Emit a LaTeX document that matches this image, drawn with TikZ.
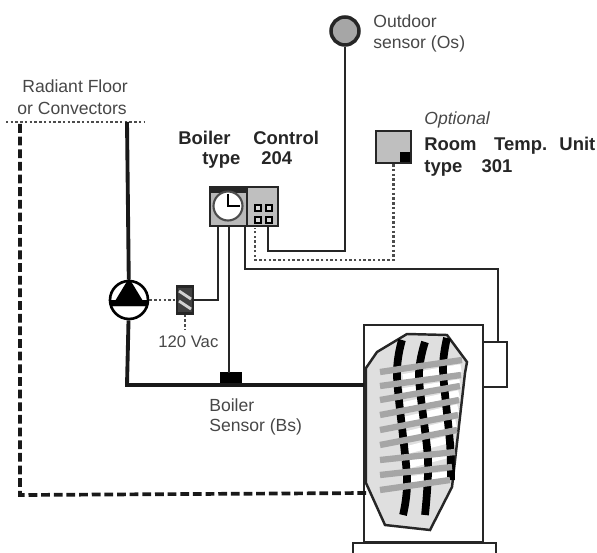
\documentclass[tikz,border=0pt]{standalone}
\usepackage{fontspec}
\setmainfont{Liberation Sans}
\tikzset{
    pipe/.style={line width=2.2pt, color=black!90},
    wire/.style={line width=1.5pt, color=black!85},
    dotwire/.style={line width=1.5pt, dash pattern=on 1.4pt off 1.3pt, color=black!70},
    flowpipe/.style={line width=2.1pt, dash pattern=on 5pt off 2.2pt, color=black!90},
    panel/.style={draw=black!85, line width=1.4pt, inner sep=0pt},
    label/.style={anchor=west, inner sep=0pt, font=\fontsize{10}{12}\selectfont, color=black!72},
    boldlabel/.style={label, font=\fontsize{10.5}{12}\selectfont\bfseries, color=black!85},
    knob/.style={draw, fill=gray!30, line width=0.9pt, inner sep=0pt, minimum size=0.11cm},
}
\begin{document}
\begin{tikzpicture}[x=0.02cm, y=-0.02cm]
    \useasboundingbox (0,0) rectangle (597,553);
    % texts
    \node[label] (radiant) at (22,86) {Radiant Floor};
    \node[label] (convectors) at (17,108) {or Convectors};
    \node[boldlabel] (boilerword) at (178,138) {Boiler};
    \node[boldlabel] (controlword) at (253,138) {Control};
    \node[boldlabel] (typecontrol) at (202,160) {type\hspace{12pt}204};
    \node[label] (outdoorword) at (373,21) {Outdoor};
    \node[label] (sensorword) at (373,44) {sensor (Os)};
    \node[label, font=\fontsize{10}{12}\selectfont\itshape] (optional) at (424,120) {Optional};
    \node[boldlabel] (roomword) at (424,146) {Room\hspace{10pt}Temp.\hspace{7pt}Unit};
    \node[boldlabel] (typeroom) at (424,168) {type\hspace{11pt}301};
    \node[label, font=\fontsize{9.5}{12}\selectfont] (vac) at (158,342) {120 Vac};
    \node[label] (boilersens) at (209,405) {Boiler};
    \node[label] (bssens) at (209,427) {Sensor (Bs)};
    % devices
    \node[draw=black!85, circle, fill=gray!70, line width=2pt, minimum size=0.56cm, inner sep=0pt] (outdoor) at (345,31) {};
    \node[panel, fill=gray!50, minimum width=0.7cm, minimum height=0.64cm] (room) at (393.5,147) {};
    \node[fill=black, inner sep=0pt, minimum size=0.19cm] (roomdot) at (405,157) {};
    \node[panel, fill=gray!55, minimum width=0.74cm, minimum height=0.78cm] (clockpanel) at (228.5,206.5) {};
    \node[fill=black!85, inner sep=0pt, minimum width=0.72cm, minimum height=0.12cm] (clockstrip) at (228.5,190) {};
    \node[panel, fill=gray!50, minimum width=0.62cm, minimum height=0.78cm] (keypanel) at (262.5,206.5) {};
    \node[draw=black!70, circle, fill=white, line width=1.2pt, minimum size=0.58cm, inner sep=0pt] (clock) at (228,206) {};
    \node[knob] (knoba) at (258,208) {};
    \node[knob] (knobb) at (269,208) {};
    \node[knob] (knobc) at (258,220) {};
    \node[knob] (knobd) at (269,220) {};
    \node[panel, fill=black!75, minimum width=0.32cm, minimum height=0.54cm] (relay) at (185,300) {};
    \node[draw, circle, fill=white, line width=1.5pt, minimum size=0.76cm, inner sep=0pt] (pump) at (129,300) {};
    \node[fill=black, inner sep=0pt, minimum width=0.44cm, minimum height=0.24cm] (boilersensor) at (231,378) {};
    % boiler
    \node[panel, minimum width=2.38cm, minimum height=4.34cm] (cabinet) at (423.5,433.5) {};
    \node[panel, minimum width=0.48cm, minimum height=0.9cm] (sidebox) at (495,364.5) {};
    \draw[panel] (353,553) -- (353,543) -- (496,543) -- (496,553);
    \draw[line width=1.4pt, draw=black!85, fill=gray!25] (366,368) -- (377,352) -- (407,334) -- (447,335) -- (467,362) -- (465,373) -- (457,443) -- (452,487) -- (430,530) -- (385,525) -- (366,483) -- cycle;
    \foreach \yl/\xr/\yr in {372/461/367, 386/460/382, 400/459/393, 415/458/407, 430/456/422, 445/454/437, 460/452/452, 475/449/474} {
        \draw[line width=4.4pt, color=white] (403,\yl+6) -- (\xr,\yr+1);
    }
    \draw[line width=4.4pt] plot[smooth] coordinates {(402,340) (397,377) (407,477) (403,515)};
    \draw[line width=4.4pt] plot[smooth] coordinates {(425,342) (419,377) (428,460) (425,515)};
    \draw[line width=4.4pt] plot[smooth] coordinates {(447,338) (443,370) (450,443) (451,480)};
    \foreach \yl/\xr/\yr in {372/462/360, 386/461/375, 400/460/386, 415/459/400, 430/458/415, 445/457/430, 460/455/452, 475/452/467, 490/450/480} {
        \draw[line width=3.6pt, color=gray!70] (380,\yl) -- (\xr,\yr);
    }
    % clock hands
    \coordinate (handup) at (228,194);
    \coordinate (handright) at (240,206);
    \draw[line width=1.6pt] (handup) -- (clock.center) -- (handright);
    % pump
    \coordinate (tipa) at (129,278);
    \coordinate (tipb) at (112,306);
    \coordinate (tipc) at (146,306);
    \fill (tipa) -- (tipc) -- (tipb) -- cycle;
    \fill (pump.west) -- (pump.east) -- (tipc) -- (tipb) -- cycle;
    % relay stripes
    \coordinate (stripea) at (179,291);
    \coordinate (stripeb) at (191,299);
    \coordinate (stripec) at (179,301);
    \coordinate (striped) at (191,309);
    \draw[line width=1.6pt, color=gray!35] (stripea) -- (stripeb);
    \draw[line width=1.6pt, color=gray!35] (stripec) -- (striped);
    % points
    \coordinate (floorleft) at (6,122);
    \coordinate (floorright) at (145,122);
    \coordinate (floorjoin) at (127,122);
    \coordinate (returntop) at (20,124);
    \coordinate (returnbend) at (20,495);
    \coordinate (returnend) at (367,493);
    \coordinate (pumpdown) at (127,385);
    \coordinate (boilerin) at (364,385);
    \coordinate (relaytop) at (218,226);
    \coordinate (relaybend) at (218,300);
    \coordinate (probetop) at (229,226);
    \coordinate (probebottom) at (229,373);
    \coordinate (dottop) at (255,228);
    \coordinate (dotbend) at (255,260);
    \coordinate (dotright) at (393.5,260);
    \coordinate (osport) at (268,226);
    \coordinate (osbend) at (268,251);
    \coordinate (oscorner) at (345,251);
    \coordinate (sideport) at (245,226);
    \coordinate (sidebend) at (245,269);
    \coordinate (sidecorner) at (498,269);
    \coordinate (sidetop) at (498,342);
    \coordinate (vacend) at (185,330);
    % connectors
    \draw[dotwire] (floorleft) -- (floorright);
    \draw[pipe] (floorjoin) -- (pump);
    \draw[pipe] (pump) -- (pumpdown) -- (boilerin);
    \draw[flowpipe] (returntop) -- (returnbend) -- (returnend);
    \draw[wire] (relaytop) -- (relaybend) -- (relay);
    \draw[wire] (probetop) -- (probebottom);
    \draw[wire] (outdoor) -- (oscorner) -- (osbend) -- (osport);
    \draw[wire] (sideport) -- (sidebend) -- (sidecorner) -- (sidetop);
    \draw[dotwire] (room) -- (dotright) -- (dotbend) -- (dottop);
    \draw[dotwire] (pump) -- (relay);
    \draw[dotwire] (relay) -- (vacend);
\end{tikzpicture}
\end{document}
